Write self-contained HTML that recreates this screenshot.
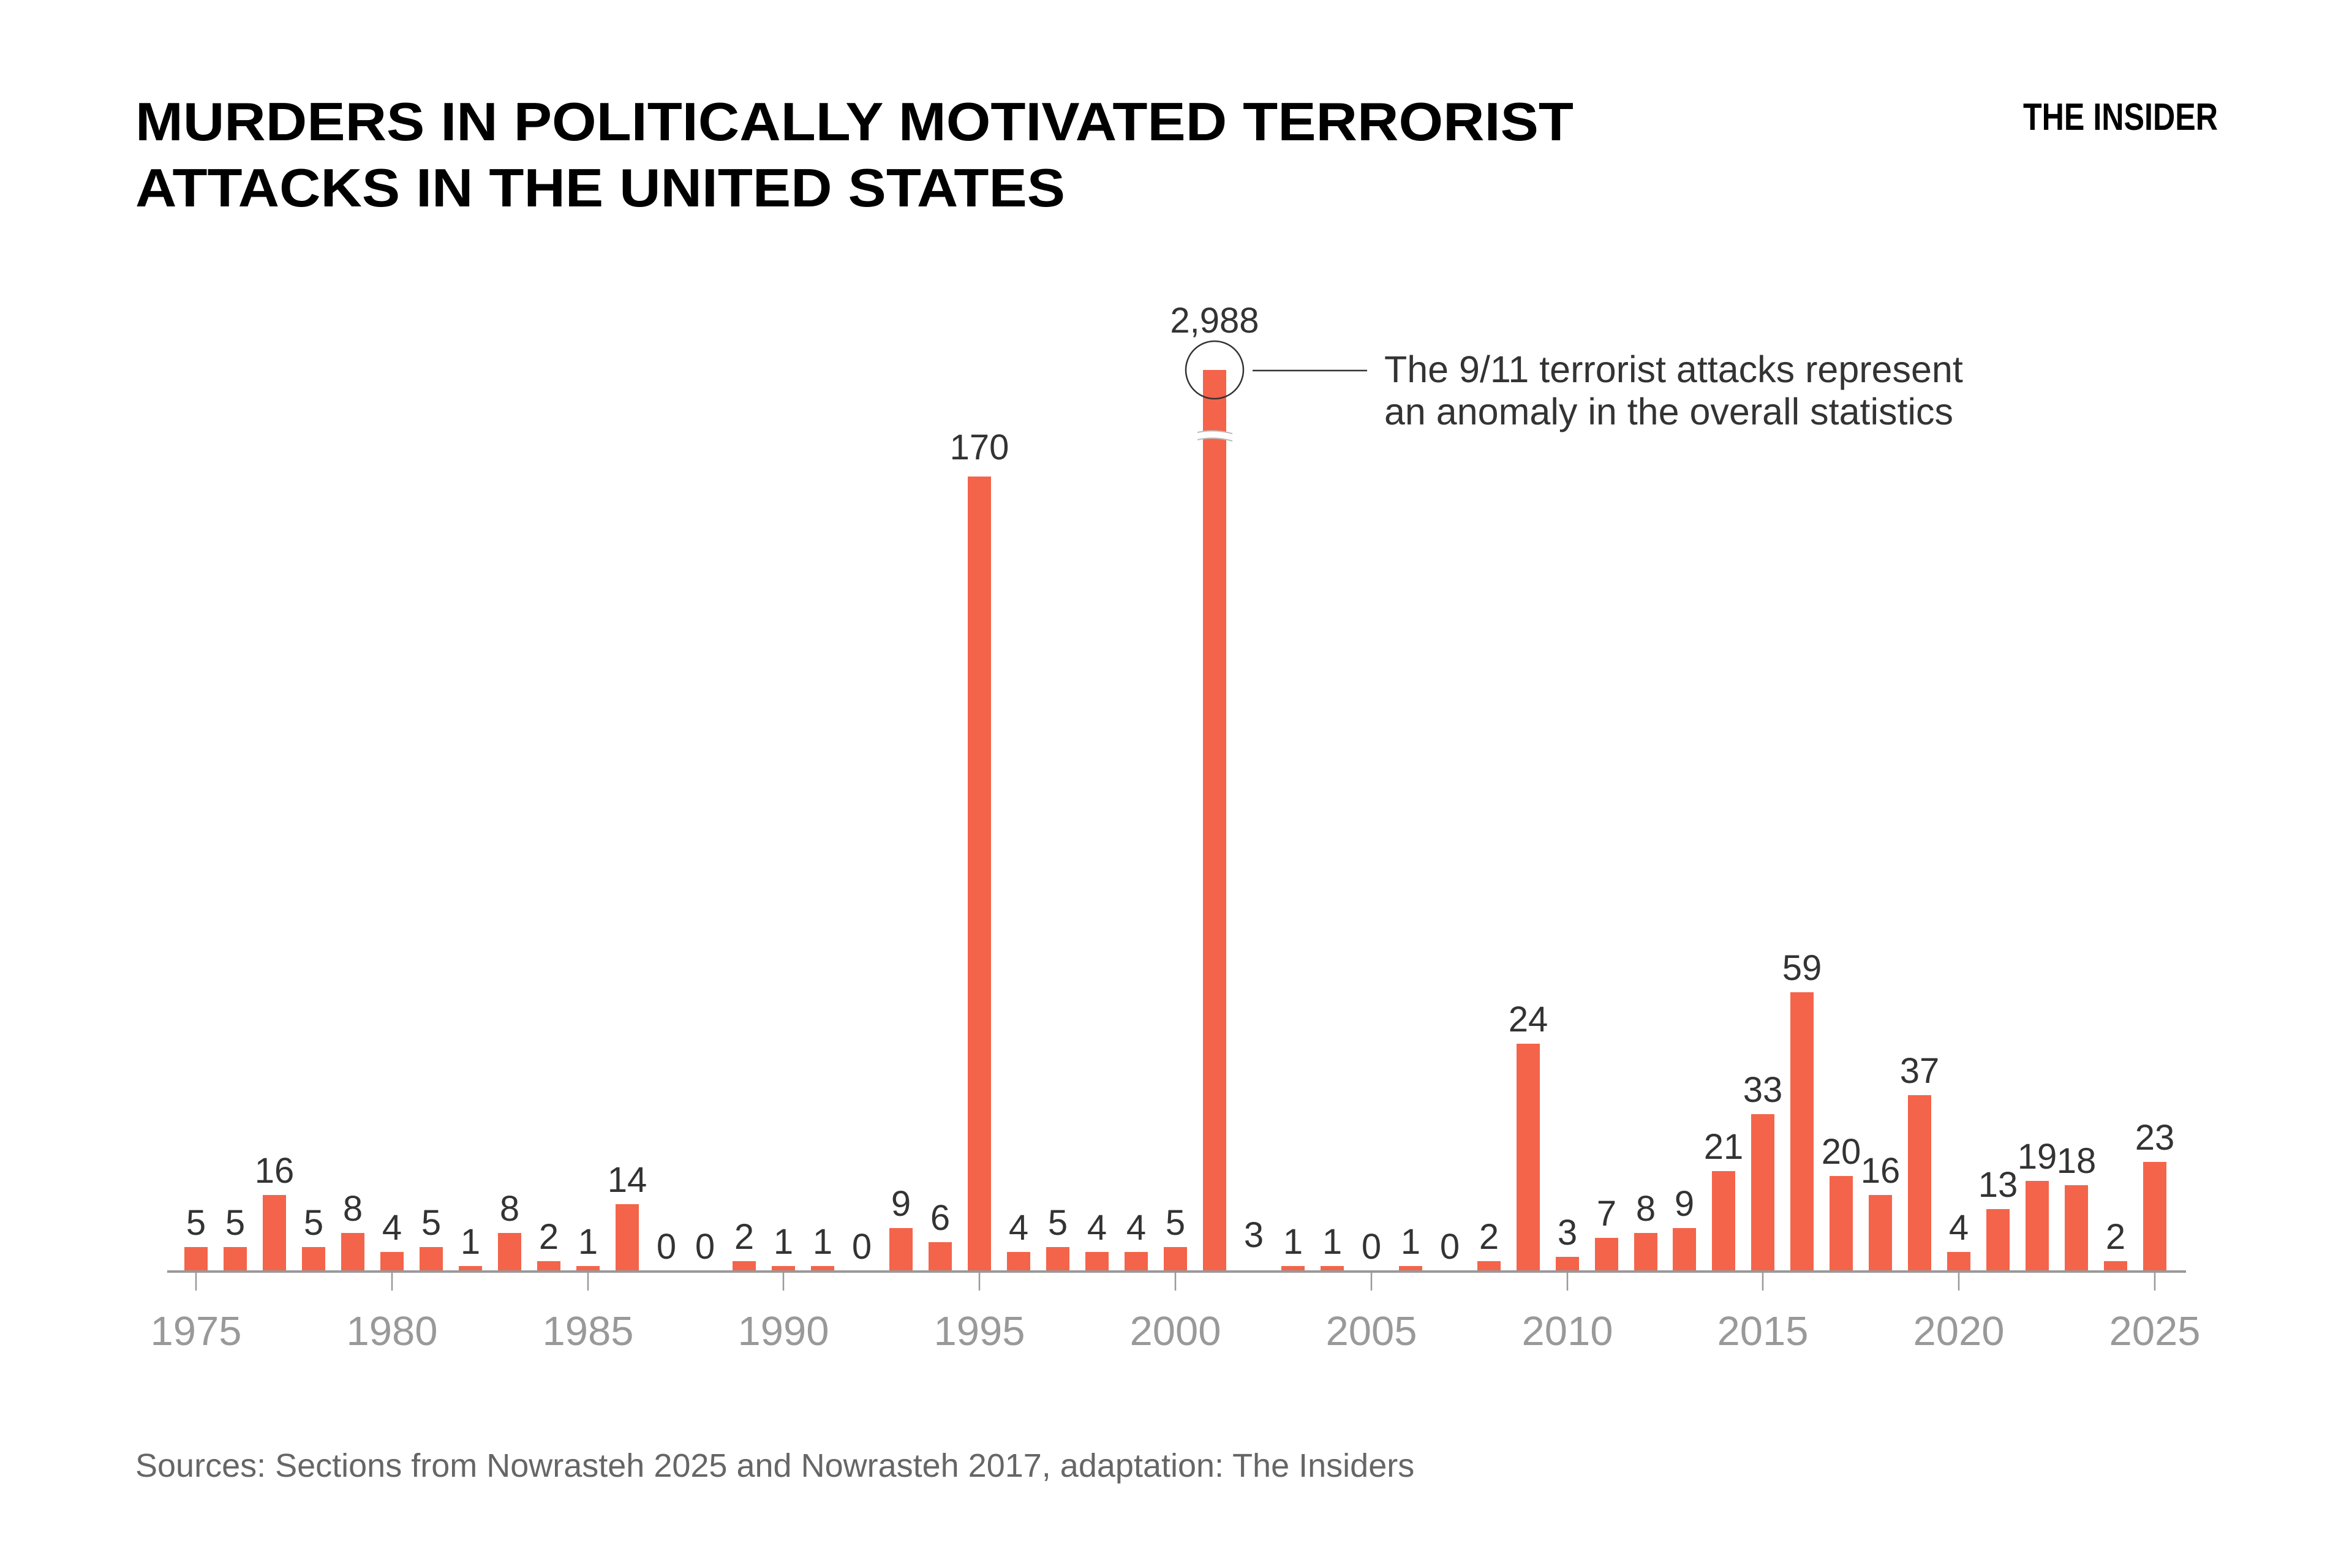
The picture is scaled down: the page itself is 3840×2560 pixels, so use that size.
<!DOCTYPE html>
<html><head><meta charset="utf-8"><style>
html,body{margin:0;padding:0;background:#fff;}
svg{display:block;}
text{font-family:"Liberation Sans",Arial,sans-serif;}
</style></head><body>
<svg width="3840" height="2560" viewBox="0 0 3840 2560" xmlns="http://www.w3.org/2000/svg">
<rect width="3840" height="2560" fill="#fff"/>
<text x="221" y="229" font-size="88" font-weight="bold" fill="#000" textLength="2348" lengthAdjust="spacingAndGlyphs">MURDERS IN POLITICALLY MOTIVATED TERRORIST</text>
<text x="221" y="337" font-size="88" font-weight="bold" fill="#000" textLength="1518" lengthAdjust="spacingAndGlyphs">ATTACKS IN THE UNITED STATES</text>
<text x="3303" y="212" font-size="62" font-weight="bold" fill="#000" textLength="318" lengthAdjust="spacingAndGlyphs">THE INSIDER</text>

<g fill="#f4644a">
<rect x="301" y="2036" width="38" height="39"/>
<rect x="365" y="2036" width="38" height="39"/>
<rect x="429" y="1951" width="38" height="124"/>
<rect x="493" y="2036" width="38" height="39"/>
<rect x="557" y="2013" width="38" height="62"/>
<rect x="621" y="2044" width="38" height="31"/>
<rect x="685" y="2036" width="38" height="39"/>
<rect x="749" y="2067" width="38" height="8"/>
<rect x="813" y="2013" width="38" height="62"/>
<rect x="877" y="2059" width="38" height="16"/>
<rect x="941" y="2067" width="38" height="8"/>
<rect x="1005" y="1966" width="38" height="109"/>
<rect x="1196" y="2059" width="38" height="16"/>
<rect x="1260" y="2067" width="38" height="8"/>
<rect x="1324" y="2067" width="38" height="8"/>
<rect x="1452" y="2005" width="38" height="70"/>
<rect x="1516" y="2028" width="38" height="47"/>
<rect x="1580" y="778" width="38" height="1297"/>
<rect x="1644" y="2044" width="38" height="31"/>
<rect x="1708" y="2036" width="38" height="39"/>
<rect x="1772" y="2044" width="38" height="31"/>
<rect x="1836" y="2044" width="38" height="31"/>
<rect x="1900" y="2036" width="38" height="39"/>
<rect x="1964" y="604" width="38" height="1471"/>
<rect x="2092" y="2067" width="38" height="8"/>
<rect x="2156" y="2067" width="38" height="8"/>
<rect x="2284" y="2067" width="38" height="8"/>
<rect x="2412" y="2059" width="38" height="16"/>
<rect x="2476" y="1704" width="38" height="371"/>
<rect x="2540" y="2052" width="38" height="23"/>
<rect x="2604" y="2021" width="38" height="54"/>
<rect x="2668" y="2013" width="38" height="62"/>
<rect x="2731" y="2005" width="38" height="70"/>
<rect x="2795" y="1912" width="38" height="163"/>
<rect x="2859" y="1819" width="38" height="256"/>
<rect x="2923" y="1620" width="38" height="455"/>
<rect x="2987" y="1920" width="38" height="155"/>
<rect x="3051" y="1951" width="38" height="124"/>
<rect x="3115" y="1788" width="38" height="287"/>
<rect x="3179" y="2044" width="38" height="31"/>
<rect x="3243" y="1974" width="38" height="101"/>
<rect x="3307" y="1928" width="38" height="147"/>
<rect x="3371" y="1935" width="38" height="140"/>
<rect x="3435" y="2059" width="38" height="16"/>
<rect x="3499" y="1897" width="38" height="178"/>
</g>

<path d="M1955 706 Q1983 700 2012 708 L2012 720 Q1983 712 1955 718 Z" fill="#fff"/>
<path d="M1955 706 Q1983 700 2012 708 M1955 718 Q1983 712 2012 720" stroke="#bbb" stroke-width="2" fill="none"/>

<circle cx="1983" cy="604" r="47" fill="none" stroke="#333" stroke-width="2.5"/>
<line x1="2045" y1="605" x2="2232" y2="605" stroke="#333" stroke-width="2.5"/>
<text x="2260" y="624" font-size="61" fill="#333">The 9/11 terrorist attacks represent</text>
<text x="2260" y="693" font-size="61" fill="#333">an anomaly in the overall statistics</text>

<g font-size="58" fill="#333" text-anchor="middle">
<text x="320" y="2016">5</text>
<text x="384" y="2016">5</text>
<text x="448" y="1931">16</text>
<text x="512" y="2016">5</text>
<text x="576" y="1993">8</text>
<text x="640" y="2024">4</text>
<text x="704" y="2016">5</text>
<text x="768" y="2047">1</text>
<text x="832" y="1993">8</text>
<text x="896" y="2039">2</text>
<text x="960" y="2047">1</text>
<text x="1024" y="1946">14</text>
<text x="1088" y="2055">0</text>
<text x="1151" y="2055">0</text>
<text x="1215" y="2039">2</text>
<text x="1279" y="2047">1</text>
<text x="1343" y="2047">1</text>
<text x="1407" y="2055">0</text>
<text x="1471" y="1985">9</text>
<text x="1535" y="2008">6</text>
<text x="1599" y="750">170</text>
<text x="1663" y="2024">4</text>
<text x="1727" y="2016">5</text>
<text x="1791" y="2024">4</text>
<text x="1855" y="2024">4</text>
<text x="1919" y="2016">5</text>
<text x="1983" y="543">2,988</text>
<text x="2047" y="2036">3</text>
<text x="2111" y="2047">1</text>
<text x="2175" y="2047">1</text>
<text x="2239" y="2055">0</text>
<text x="2303" y="2047">1</text>
<text x="2367" y="2055">0</text>
<text x="2431" y="2039">2</text>
<text x="2495" y="1684">24</text>
<text x="2559" y="2032">3</text>
<text x="2623" y="2001">7</text>
<text x="2687" y="1993">8</text>
<text x="2750" y="1985">9</text>
<text x="2814" y="1892">21</text>
<text x="2878" y="1799">33</text>
<text x="2942" y="1600">59</text>
<text x="3006" y="1900">20</text>
<text x="3070" y="1931">16</text>
<text x="3134" y="1768">37</text>
<text x="3198" y="2024">4</text>
<text x="3262" y="1954">13</text>
<text x="3326" y="1908">19</text>
<text x="3390" y="1915">18</text>
<text x="3454" y="2039">2</text>
<text x="3518" y="1877">23</text>
</g>

<line x1="273" y1="2076" x2="3569" y2="2076" stroke="#999" stroke-width="4"/>
<g stroke="#999" stroke-width="2.5">
<line x1="320" y1="2078" x2="320" y2="2107"/>
<line x1="640" y1="2078" x2="640" y2="2107"/>
<line x1="960" y1="2078" x2="960" y2="2107"/>
<line x1="1279" y1="2078" x2="1279" y2="2107"/>
<line x1="1599" y1="2078" x2="1599" y2="2107"/>
<line x1="1919" y1="2078" x2="1919" y2="2107"/>
<line x1="2239" y1="2078" x2="2239" y2="2107"/>
<line x1="2559" y1="2078" x2="2559" y2="2107"/>
<line x1="2878" y1="2078" x2="2878" y2="2107"/>
<line x1="3198" y1="2078" x2="3198" y2="2107"/>
<line x1="3518" y1="2078" x2="3518" y2="2107"/>
</g>
<g font-size="67" fill="#999" text-anchor="middle">
<text x="320" y="2196">1975</text>
<text x="640" y="2196">1980</text>
<text x="960" y="2196">1985</text>
<text x="1279" y="2196">1990</text>
<text x="1599" y="2196">1995</text>
<text x="1919" y="2196">2000</text>
<text x="2239" y="2196">2005</text>
<text x="2559" y="2196">2010</text>
<text x="2878" y="2196">2015</text>
<text x="3198" y="2196">2020</text>
<text x="3518" y="2196">2025</text>
</g>

<text x="221" y="2411" font-size="54" fill="#666">Sources: Sections from Nowrasteh 2025 and Nowrasteh 2017, adaptation: The Insiders</text>
</svg>
</body></html>
